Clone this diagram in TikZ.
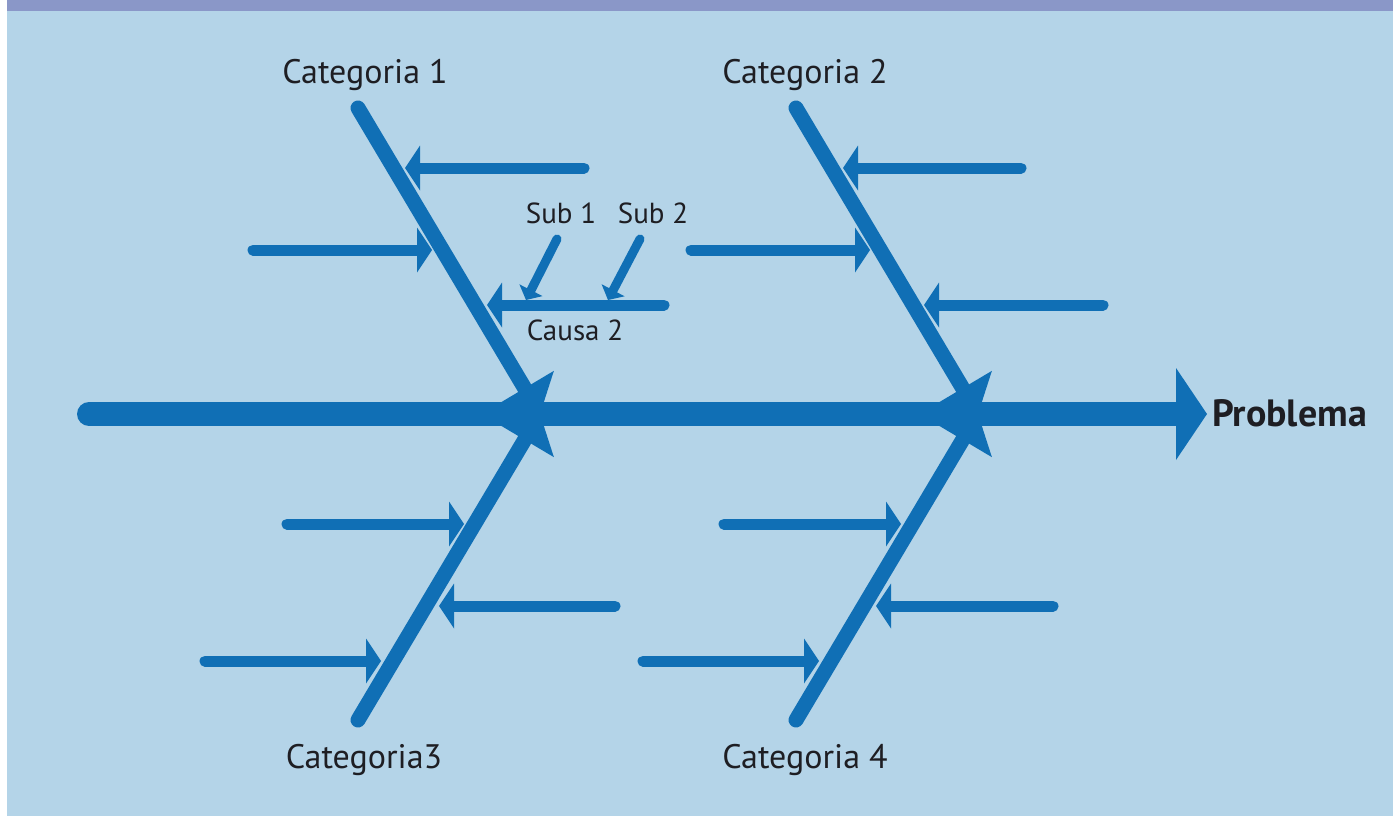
\documentclass[tikz,border=0pt]{standalone}
\usepackage{fontspec}
\setmainfont{PT Sans}
\usetikzlibrary{arrows.meta}
\definecolor{bg}{RGB}{180,212,232}
\definecolor{band}{RGB}{138,151,200}
\definecolor{fish}{RGB}{16,111,181}
\definecolor{ink}{RGB}{30,30,35}
\begin{document}
\begin{tikzpicture}[x=1pt,y=-1pt,
  spine/.style={line width=24pt, line cap=round, draw=fish, -{Triangle[length=31pt,width=92pt,line width=0pt]}},
  bone/.style={line width=15pt, line cap=round, draw=fish, -{Triangle[length=30pt,width=68pt,line width=0pt]}},
  cause/.style={line width=11pt, line cap=round, draw=fish, -{Triangle[length=15pt,width=45pt,line width=0pt]}},
  subcause/.style={line width=9pt, line cap=round, draw=fish, -{Triangle[length=11pt,width=26pt,line width=0pt]}},
  cat/.style={text=ink, font=\fontsize{34}{38}\selectfont, inner sep=0pt},
  small/.style={text=ink, font=\fontsize{29}{32}\selectfont, inner sep=0pt},
  prob/.style={text=ink, font=\fontsize{38}{42}\selectfont\bfseries, inner sep=0pt, anchor=west},
  ]
\useasboundingbox (0,0) rectangle (1393,816);
\fill[white] (0,0) rectangle (1393,816);
\fill[bg] (7,0) rectangle (1393,816);
\fill[band] (7,0) rectangle (1393,11);

% coordinates
\coordinate (s0) at (89,414);
\coordinate (s1) at (1207,414);
\coordinate (b1a) at (358,108);
\coordinate (b1b) at (540,414);
\coordinate (b2a) at (796,108);
\coordinate (b2b) at (978,414);
\coordinate (b3a) at (358,720);
\coordinate (b3b) at (540,414);
\coordinate (b4a) at (796,720);
\coordinate (b4b) at (978,414);

% bones
\draw[bone] (b1a) -- (b1b);
\draw[bone] (b2a) -- (b2b);
\draw[bone] (b3a) -- (b3b);
\draw[bone] (b4a) -- (b4b);

% spine
\draw[spine] (s0) -- (s1);
\node[prob] (problema) at (1212,413) {Problema};

% category 1 causes
\coordinate (c11s) at (584,168); \coordinate (c11e) at (405,168);
\coordinate (c12s) at (253,250); \coordinate (c12e) at (432,250);
\coordinate (c13s) at (664,305); \coordinate (c13e) at (487,305);
\draw[cause] (c11s) -- (c11e);
\draw[cause] (c12s) -- (c12e);
\draw[cause] (c13s) -- (c13e);
\coordinate (sub1s) at (557,239); \coordinate (sub1e) at (526,300);
\coordinate (sub2s) at (640,239); \coordinate (sub2e) at (608,300);
\draw[subcause] (sub1s) -- (sub1e);
\draw[subcause] (sub2s) -- (sub2e);

% category 2 causes
\coordinate (c21s) at (1021,168); \coordinate (c21e) at (843,168);
\coordinate (c22s) at (691,250); \coordinate (c22e) at (870,250);
\coordinate (c23s) at (1103,305); \coordinate (c23e) at (924,305);
\draw[cause] (c21s) -- (c21e);
\draw[cause] (c22s) -- (c22e);
\draw[cause] (c23s) -- (c23e);

% category 3 causes
\coordinate (c31s) at (287,524); \coordinate (c31e) at (464,524);
\coordinate (c32s) at (615,606); \coordinate (c32e) at (439,606);
\coordinate (c33s) at (205,661); \coordinate (c33e) at (381,661);
\draw[cause] (c31s) -- (c31e);
\draw[cause] (c32s) -- (c32e);
\draw[cause] (c33s) -- (c33e);

% category 4 causes
\coordinate (c41s) at (724,524); \coordinate (c41e) at (901,524);
\coordinate (c42s) at (1053,606); \coordinate (c42e) at (876,606);
\coordinate (c43s) at (643,661); \coordinate (c43e) at (819,661);
\draw[cause] (c41s) -- (c41e);
\draw[cause] (c42s) -- (c42e);
\draw[cause] (c43s) -- (c43e);

% labels
\node[cat] (cat1) at (365,75) {Categoria 1};
\node[cat] (cat2) at (805,75) {Categoria 2};
\node[cat] (cat3) at (364,760) {Categoria3};
\node[cat] (cat4) at (805,760) {Categoria 4};
\node[small] (sub1) at (561,213) {Sub 1};
\node[small] (sub2) at (653,213) {Sub 2};
\node[small] (causa2) at (575,330) {Causa 2};
\end{tikzpicture}
\end{document}
